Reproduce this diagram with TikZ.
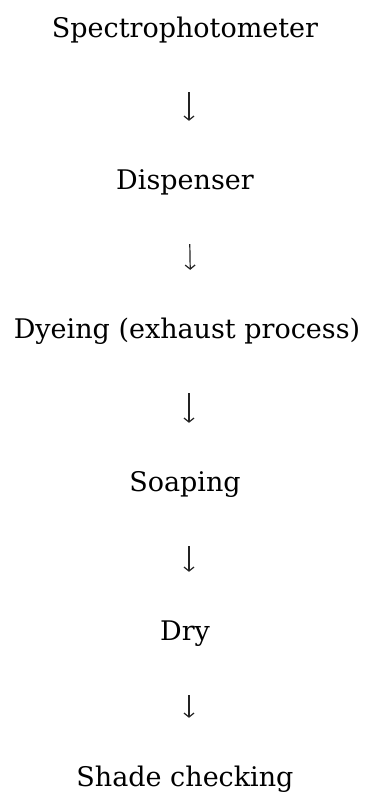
\documentclass[tikz,border=0pt]{standalone}
\usepackage{fontspec}
\setmainfont{DejaVu Serif}
\usepackage{xcolor}
\usetikzlibrary{arrows.meta,positioning}
\definecolor{flowGray}{RGB}{35,35,35}

\begin{document}
\begin{tikzpicture}[x=1pt,y=1pt,
  stage/.style={anchor=base, inner sep=0pt, text height=21pt, text depth=7pt, font=\fontsize{27}{32}\selectfont},
  flow/.style={-{Straight Barb[length=4pt,width=10pt]}, line width=1.2pt, color=flowGray, shorten <=48pt, shorten >=47pt}]
\useasboundingbox (0,0) rectangle (368,-793);
\node[stage] (spec) at (185,-37) {Spectrophotometer};
\node[stage] (disp) at (185,-189) {Dispenser};
\node[stage] (dye) at (187,-338) {Dyeing (exhaust process)};
\node[stage] (soap) at (185,-491) {Soaping};
\node[stage] (dry) at (185,-640) {Dry};
\node[stage] (shade) at (185,-786) {Shade checking};
\draw[flow] ([xshift=4pt]spec.south) -- ([xshift=4pt]disp.north);
\draw[flow] ([xshift=4pt]disp.south) -- ([xshift=4pt]dye.north);
\draw[flow] ([xshift=2pt]dye.south) -- ([xshift=4pt]soap.north);
\draw[flow] ([xshift=4pt]soap.south) -- ([xshift=4pt]dry.north);
\draw[flow] ([xshift=4pt]dry.south) -- ([xshift=4pt]shade.north);
\end{tikzpicture}
\end{document}
